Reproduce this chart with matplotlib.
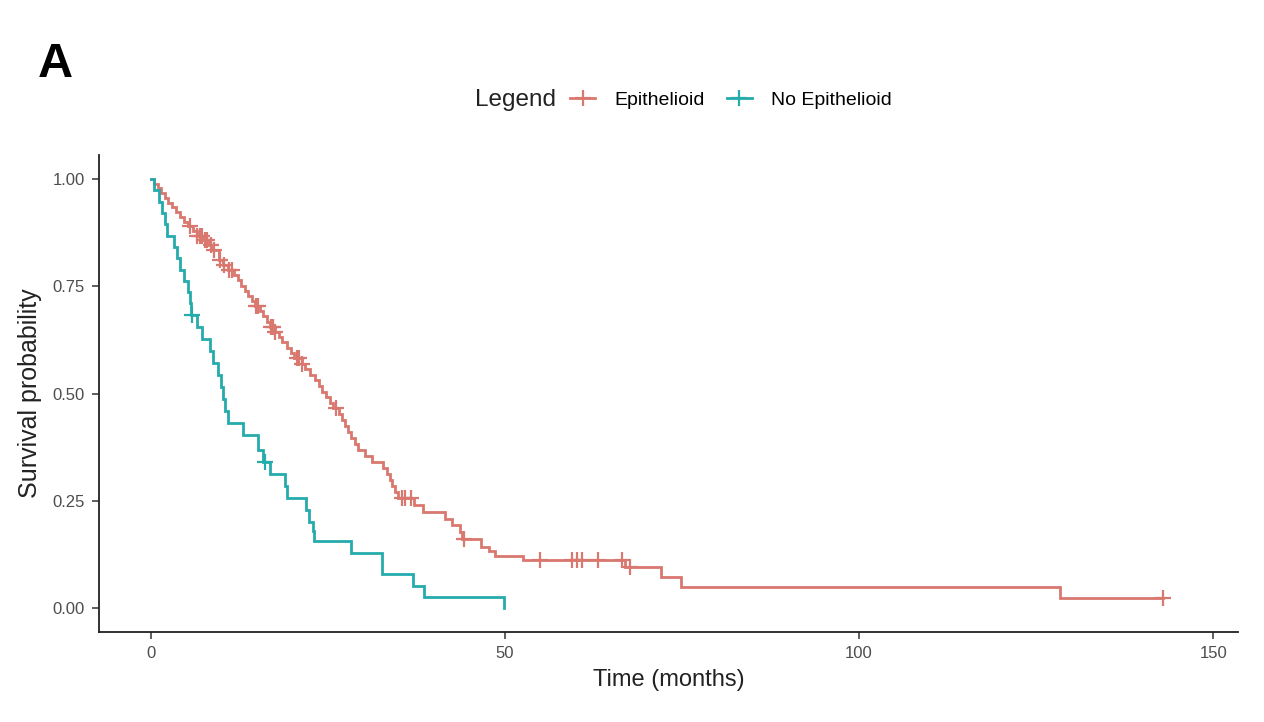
import numpy as np
import matplotlib
matplotlib.use("Agg")
import matplotlib.pyplot as plt
from matplotlib.lines import Line2D

plt.rcParams["font.family"] = ["Liberation Sans", "DejaVu Sans"]

# Kaplan-Meier estimates (time in months, survival after each event)
epi_times = [0.5, 1.0, 1.5, 2.0, 2.5, 3.0, 3.6, 4.1, 4.7, 5.2, 6.0, 6.5, 7.5, 8.3, 8.8,
             9.7, 10.2, 10.9, 11.8, 12.3, 12.8, 13.3, 13.8, 14.3, 14.7, 15.4, 15.9, 16.4,
             16.9, 17.5, 18.1, 18.6, 19.2, 19.8, 20.3, 21.3, 21.8, 22.5, 23.2, 23.7, 24.2,
             24.8, 25.3, 25.8, 26.6, 27.0, 27.4, 27.9, 28.3, 28.8, 29.3, 30.3, 31.3, 32.8,
             33.4, 33.8, 34.1, 34.5, 34.9, 37.2, 38.5, 41.5, 42.5, 43.6, 43.9, 46.6, 47.7,
             48.6, 52.6, 66.9, 72.0, 74.8, 128.4]
epi_surv = [0.989, 0.978, 0.967, 0.956, 0.945, 0.934, 0.923, 0.912, 0.901, 0.890, 0.879,
            0.868, 0.857, 0.846, 0.834, 0.811, 0.800, 0.788, 0.776, 0.764, 0.752, 0.740,
            0.728, 0.716, 0.704, 0.692, 0.680, 0.668, 0.656, 0.644, 0.632, 0.620, 0.607,
            0.595, 0.583, 0.570, 0.557, 0.544, 0.531, 0.518, 0.505, 0.492, 0.479, 0.466,
            0.452, 0.438, 0.424, 0.410, 0.396, 0.382, 0.368, 0.354, 0.340, 0.326, 0.312,
            0.298, 0.284, 0.270, 0.256, 0.240, 0.225, 0.209, 0.193, 0.177, 0.161, 0.144,
            0.133, 0.122, 0.113, 0.097, 0.073, 0.049, 0.024]
epi_censor = [5.5, 6.6, 6.9, 7.2, 7.7, 8.0, 8.5, 9.0, 9.8, 10.4, 11.0, 11.5, 14.9, 15.1,
              17.0, 17.3, 17.6, 20.6, 21.0, 21.3, 26.2, 35.5, 35.9, 36.8, 44.3, 55.0, 59.5,
              60.2, 60.9, 63.1, 66.6, 67.6, 142.9]

noepi_times = [0.5, 1.2, 1.6, 2.0, 2.3, 3.3, 3.7, 4.2, 4.7, 5.2, 5.6, 5.7, 6.5, 7.2, 8.4,
               8.8, 9.5, 9.9, 10.2, 10.5, 10.9, 13.0, 15.2, 15.9, 16.9, 19.0, 19.3, 21.9,
               22.3, 22.9, 23.0, 28.3, 32.6, 37.0, 38.6, 49.9]
noepi_surv = [0.974, 0.947, 0.921, 0.895, 0.868, 0.842, 0.816, 0.789, 0.763, 0.737, 0.711,
              0.684, 0.656, 0.628, 0.600, 0.572, 0.544, 0.516, 0.488, 0.460, 0.432, 0.404,
              0.370, 0.342, 0.313, 0.284, 0.256, 0.230, 0.200, 0.180, 0.157, 0.130, 0.079,
              0.052, 0.026, 0.0]
noepi_censor = [5.9, 16.2]

groups = ["Epithelioid", "No Epithelioid"]
colors = ["#D8786E", "#25ABAC"]

fig = plt.figure(figsize=(12.64, 7.22), dpi=100)
ax = fig.add_axes([0.0783, 0.1247, 0.9011, 0.6606])

for t, s, cens, col in [(epi_times, epi_surv, epi_censor, colors[0]),
                        (noepi_times, noepi_surv, noepi_censor, colors[1])]:
    tt = np.array([0.0] + t)
    ss = np.array([1.0] + s)
    end = max(tt[-1], max(cens))
    tt = np.append(tt, end)
    ss = np.append(ss, ss[-1])
    ax.step(tt, ss, where="post", color=col, lw=2.0, solid_joinstyle="miter")
    idx = np.searchsorted(tt, cens, side="right") - 1
    ax.plot(cens, ss[idx], ls="none", marker="+", ms=11, mew=1.6, color=col)

ax.set_xlim(-7.3, 153.5)
ax.set_ylim(-0.055, 1.056)
ax.set_xticks([0, 50, 100, 150])
ax.set_yticks([0.0, 0.25, 0.5, 0.75, 1.0])
ax.set_yticklabels(["0.00", "0.25", "0.50", "0.75", "1.00"])
for side in ["top", "right"]:
    ax.spines[side].set_visible(False)
for side in ["left", "bottom"]:
    ax.spines[side].set_linewidth(1.3)
    ax.spines[side].set_color("#222222")
ax.tick_params(axis="both", length=5, width=1.1, color="#333333",
               labelsize=12, labelcolor="#4D4D4D", pad=5)
ax.set_xlabel("Time (months)", fontsize=17, color="#222222", labelpad=6)
ax.set_ylabel("Survival probability", fontsize=18, color="#222222", labelpad=8)

fig.text(0.030, 0.91, "A", fontsize=35, fontweight="bold", va="center", ha="left")

fig.text(0.376, 0.861, "Legend", fontsize=17.5, color="#222222", va="center", ha="left")
handles = [Line2D([], [], color=c, lw=2, marker="+", ms=11, mew=1.6) for c in colors]
fig.legend(handles, groups, loc="center left", bbox_to_anchor=(0.451, 0.861), ncol=2,
           frameon=False, fontsize=14, handlelength=1.3, handletextpad=1.0,
           columnspacing=1.1, borderaxespad=0, borderpad=0)

fig.savefig("out.png", dpi=100)
